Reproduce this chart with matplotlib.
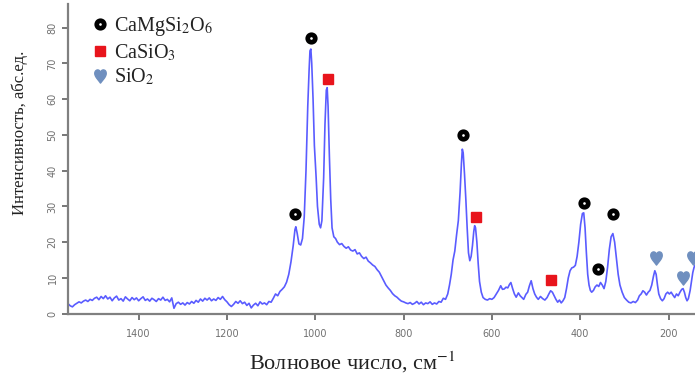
import matplotlib
matplotlib.use("Agg")
import matplotlib.pyplot as plt
from matplotlib.lines import Line2D

# ---- spectrum ----
wavenumber = [
    1560, 1555, 1550, 1545, 1540, 1535, 1530, 1525, 1520, 1515, 1510, 1505, 1500, 1495, 1490, 1485,
    1480, 1475, 1470, 1465, 1460, 1455, 1450, 1445, 1440, 1435, 1430, 1425, 1420, 1415, 1410, 1405,
    1400, 1395, 1390, 1385, 1380, 1375, 1370, 1365, 1360, 1355, 1350, 1345, 1340, 1335, 1330, 1325,
    1320, 1315, 1310, 1305, 1300, 1295, 1290, 1285, 1280, 1275, 1270, 1265, 1260, 1255, 1250, 1245,
    1240, 1235, 1230, 1225, 1220, 1215, 1210, 1205, 1200, 1195, 1190, 1185, 1180, 1175, 1170, 1165,
    1160, 1155, 1150, 1145, 1140, 1135, 1130, 1125, 1120, 1115, 1110, 1105, 1100, 1095, 1090, 1085,
    1080, 1075, 1070, 1065, 1060, 1055, 1050, 1046, 1044, 1041, 1037, 1033, 1029, 1025, 1021, 1017,
    1014, 1012, 1010, 1008, 1005, 1002, 998, 995, 991, 988, 985, 981, 978, 975, 973, 971,
    968, 965, 962, 958, 954, 950, 945, 940, 935, 930, 925, 920, 915, 910, 905, 900,
    895, 890, 885, 880, 875, 870, 865, 860, 855, 850, 845, 840, 835, 830, 825, 820,
    815, 810, 805, 800, 795, 790, 785, 780, 775, 770, 765, 760, 755, 750, 745, 740,
    735, 730, 725, 720, 715, 710, 705, 700, 696, 692, 688, 684, 680, 676, 672, 669,
    667, 665, 662, 659, 656, 653, 650, 647, 644, 641, 639, 637, 634, 631, 628, 624,
    620, 615, 610, 605, 600, 595, 590, 585, 580, 576, 572, 568, 564, 560, 557, 553,
    549, 545, 540, 536, 532, 528, 523, 519, 515, 511, 507, 503, 499, 495, 490, 485,
    480, 475, 471, 467, 463, 459, 455, 451, 447, 443, 439, 435, 431, 427, 423, 419,
    415, 411, 407, 403, 399, 395, 392, 389, 386, 383, 380, 377, 374, 370, 366, 362,
    358, 354, 350, 346, 342, 338, 334, 330, 326, 322, 318, 314, 310, 305, 300, 295,
    290, 285, 280, 275, 270, 266, 262, 258, 254, 250, 246, 242, 238, 234, 231, 228,
    225, 222, 218, 214, 210, 206, 202, 198, 194, 190, 186, 182, 178, 174, 170, 167,
    164, 161, 158, 155, 151, 148, 145, 142, 140,
]
intensity = [
    2.8, 2.2, 1.9, 2.5, 2.9, 3.3, 3.0, 3.5, 3.8, 3.4, 4.0, 3.7, 4.3, 4.6, 3.9, 4.8,
    4.2, 5.0, 4.1, 4.6, 3.6, 4.4, 4.9, 3.8, 4.2, 3.5, 4.7, 4.1, 3.6, 4.5, 3.9, 4.4,
    3.6, 4.2, 4.7, 3.7, 4.1, 3.5, 4.3, 3.9, 3.4, 4.2, 3.8, 4.6, 3.7, 4.0, 3.3, 4.4,
    1.5, 2.8, 3.2, 2.6, 3.0, 2.4, 3.1, 2.7, 3.4, 2.9, 3.7, 3.2, 4.1, 3.5, 4.3, 3.8,
    4.4, 3.6, 4.1, 3.7, 4.5, 4.0, 4.8, 3.9, 3.3, 2.5, 2.0, 2.6, 3.4, 2.9, 3.6, 2.8,
    3.2, 2.3, 2.9, 1.6, 2.4, 2.9, 2.2, 3.3, 2.7, 3.0, 2.5, 3.4, 3.2, 4.3, 5.5, 5.0,
    6.2, 6.8, 7.5, 8.8, 11.0, 14.5, 19.0, 23.5, 24.3, 22.5, 19.5, 19.2, 21.0, 27.0, 40.0, 58.0,
    68.0, 73.5, 74.0, 70.0, 60.0, 47.0, 38.0, 30.0, 25.0, 24.0, 26.0, 38.0, 53.0, 62.5, 63.2, 58.0,
    44.0, 32.0, 24.0, 21.5, 21.0, 20.0, 19.3, 19.6, 18.8, 18.3, 18.7, 17.8, 17.5, 17.9, 16.7, 17.0,
    16.0, 15.4, 15.8, 14.7, 14.2, 13.6, 13.2, 12.3, 11.6, 10.4, 9.2, 8.0, 7.2, 6.5, 5.6, 5.0,
    4.6, 4.0, 3.5, 3.3, 3.0, 2.8, 3.1, 2.6, 2.9, 3.4, 2.7, 3.2, 2.5, 3.0, 2.8, 3.3,
    2.6, 3.0, 2.7, 3.4, 3.2, 4.3, 4.0, 5.5, 8.0, 11.0, 15.0, 17.5, 22.0, 26.0, 34.0, 42.0,
    46.0, 45.0, 39.0, 32.0, 24.0, 17.0, 14.8, 16.0, 19.0, 23.0, 24.6, 24.0, 20.0, 14.0, 9.0, 6.0,
    4.5, 4.0, 3.8, 4.2, 4.0, 4.5, 5.5, 6.5, 7.8, 6.8, 6.9, 7.4, 7.2, 8.2, 8.7, 7.0,
    5.5, 4.6, 5.8, 5.0, 4.5, 4.0, 5.4, 6.0, 7.8, 9.2, 7.0, 5.5, 4.6, 4.0, 4.8, 4.2,
    3.8, 4.5, 5.5, 6.4, 6.0, 5.0, 4.0, 3.2, 3.8, 3.0, 3.6, 4.5, 7.0, 10.0, 12.0, 12.8,
    13.0, 13.5, 16.0, 20.0, 25.0, 28.0, 28.2, 24.0, 17.0, 11.0, 8.0, 6.5, 6.0, 6.5, 7.5, 8.0,
    7.6, 8.7, 8.0, 7.0, 9.0, 13.0, 18.0, 21.5, 22.4, 20.0, 15.5, 11.0, 8.0, 6.0, 4.5, 3.8,
    3.2, 3.0, 3.4, 3.1, 3.8, 5.0, 5.5, 6.4, 6.0, 5.2, 6.0, 6.5, 8.0, 10.5, 12.0, 11.0,
    8.0, 5.5, 4.2, 3.6, 4.2, 5.5, 6.0, 5.5, 6.0, 5.2, 4.5, 5.5, 5.0, 6.0, 6.8, 7.0,
    6.0, 4.5, 3.6, 4.2, 6.5, 9.0, 11.5, 13.0, 13.5,
]

# ---- phase markers ----
cms_x = [1045, 1010, 666, 392, 360, 326]
cms_y = [28, 77, 50, 31, 12.6, 28]
cs_x = [972, 637, 467]
cs_y = [65.5, 27, 9.5]
sio2_x = [229, 168, 145]
sio2_y = [15.6, 10, 15.6]

legend_labels = ["CaMgSi$_2$O$_6$", "CaSiO$_3$", "SiO$_2$"]
x_ticks = [1400, 1200, 1000, 800, 600, 400, 200]
y_ticks = [0, 10, 20, 30, 40, 50, 60, 70, 80]

plt.rcParams["mathtext.fontset"] = "stix"

W, H = 695, 376
fig = plt.figure(figsize=(W / 100, H / 100), dpi=100)
ax = fig.add_axes([68 / W, (H - 314) / H, (W - 68) / W, (314 - 4) / H])

ax.plot(wavenumber, intensity, color="#5a5cff", lw=1.2)

blue_heart = "#6f8fbf"
ring = dict(marker="o", mfc="white", mec="black", mew=3.4, ms=5.4, ls="none")
ax.plot(cms_x, cms_y, zorder=5, **ring)
ax.plot(cs_x, cs_y, "s", color="#e8141c", ms=6.5, ls="none", zorder=5)
ax.plot(sio2_x, sio2_y, marker="$♥$", color=blue_heart, ms=9.5, ls="none", zorder=5)

ax.set_xlim(1560, 140)
ax.set_ylim(-0.1, 86.6)
ax.set_xticks(x_ticks)
ax.set_yticks(y_ticks)

for s in ["top", "right"]:
    ax.spines[s].set_visible(False)
for s in ["left", "bottom"]:
    ax.spines[s].set_color("#808080")
    ax.spines[s].set_linewidth(1.6)

ax.tick_params(axis="both", direction="out", length=4, width=1.2, color="#606060",
               labelcolor="#707070", labelsize=7)
ax.tick_params(axis="x", pad=7)
for lab in ax.get_yticklabels():
    lab.set_rotation(90)
    lab.set_va("center")

ax.set_xlabel("Волновое число, см$^{-1}$", family="Liberation Serif", fontsize=16, color="#222222")
ax.xaxis.set_label_coords(0.453, -0.115)
ax.set_ylabel("Интенсивность, абс.ед.", family="Liberation Serif", fontsize=12, color="#222222")
ax.yaxis.set_label_coords(-0.064, 0.585)

handles = [
    Line2D([], [], **ring),
    Line2D([], [], marker="s", color="#e8141c", ls="none", ms=6.5),
    Line2D([], [], marker="$♥$", color=blue_heart, ls="none", ms=9.5),
]
leg = ax.legend(handles, legend_labels, loc="upper left", bbox_to_anchor=(0.025, 0.99),
                frameon=False, handlelength=0.8, handletextpad=0.3, labelspacing=0.2,
                prop={"family": "Liberation Serif", "size": 14.5}, borderaxespad=0.0)
for t in leg.get_texts():
    t.set_color("#222222")

fig.savefig("out.png", dpi=100)
